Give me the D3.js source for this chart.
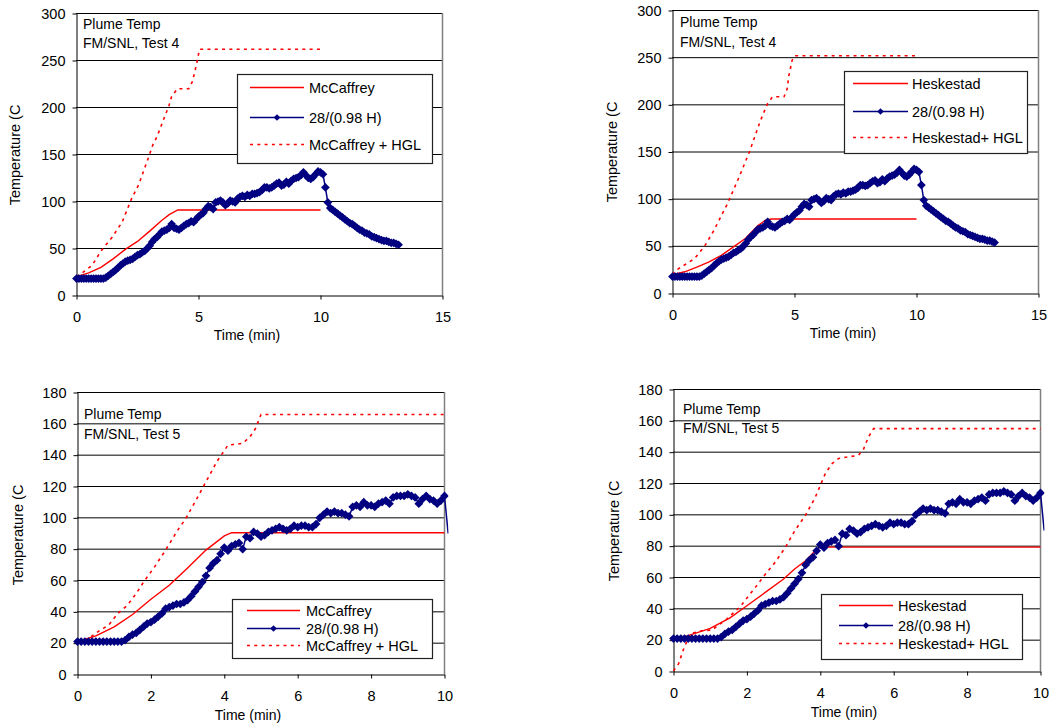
<!DOCTYPE html>
<html>
<head>
<meta charset="utf-8">
<script src="https://cdnjs.cloudflare.com/ajax/libs/d3/7.8.5/d3.min.js"></script>
<style>
  body { margin: 0; background: #fff; }
  svg { display: block; font-family: "Liberation Sans", Arial, sans-serif; }
</style>
</head>
<body>
<svg id="chart" width="1052" height="725"></svg>
<script>
// ---- Data -------------------------------------------------------------
// Thermocouple readings (deg C), logged every 0.1 min starting at t = 0.
const measuredStepMin = 0.1;
const test4Measured = [
  18, 18, 18, 18, 18, 18, 18, 18, 18, 18, 18, 18,
  19, 21, 23, 25, 27, 29.5, 32, 34, 36, 37,
  38, 39, 41, 43, 44, 46, 47.5, 50, 53, 57,
  60, 62, 65, 68, 69, 70, 72, 76, 72, 71,
  70, 72, 74, 76, 77, 79, 78, 81, 84, 86,
  88, 92, 95, 94, 92, 99, 100, 101, 99, 96,
  98, 101, 100, 99, 103, 105, 106, 105, 107, 106,
  108, 108, 109, 110, 112, 115, 115, 114, 115, 117,
  119, 120, 117, 118, 121, 119, 122, 124, 125, 126,
  128, 131, 128, 125, 124, 126, 129, 132, 131, 129,
  115, 99, 93, 91, 89, 87, 85, 83, 81, 79,
  77, 76, 74, 72, 70, 69, 67, 66, 65, 63,
  62, 61, 60, 59, 58, 58, 57, 56, 56, 55,
  54
];
const test5Measured = [
  21, 21, 21, 21, 21, 21, 21, 21, 21, 21, 21, 21, 21,
  22, 24, 25.5, 26.5, 28.5, 30.5, 32.5, 33.5, 35, 37,
  39, 42, 43, 44, 45, 45, 46, 47.5, 50, 53,
  56, 59, 63, 68, 71, 73, 77, 81, 79, 82,
  83, 84, 80, 88, 87, 91, 90, 88, 89, 91,
  92, 93, 94, 93, 92, 93, 95, 94, 95, 95,
  94, 94, 96, 100, 102, 104, 103, 104, 103, 103,
  102, 101, 107, 108, 107, 110, 108, 108, 107, 109,
  110, 111, 109, 113, 114, 114, 114, 115, 114, 113,
  109, 112, 114, 112, 111, 109, 111, 114, 90
];

// Plume correlation predictions: [time (min), temperature (deg C)]
const mccaffreyTest4 = [[0, 20], [0.5, 24], [1, 30], [1.5, 39], [2, 49], [2.5, 57.5], [3, 68.5], [3.5, 80], [3.8, 86], [4.15, 91], [10, 91]];
const mccaffreyHglTest4 = [[0, 20], [0.23, 24], [0.64, 32], [1.01, 47.5], [1.46, 62], [1.87, 78], [2.24, 102], [2.55, 118], [2.87, 141], [3.14, 161], [3.3, 169], [3.67, 194], [3.78, 201], [3.89, 211], [4.13, 220], [4.6, 220], [4.74, 227], [4.85, 238], [4.95, 250], [5.04, 262], [10, 262]];
const heskestadTest4 = [[0, 20], [0.5, 23], [1, 28], [1.5, 33.5], [2, 40.5], [2.5, 49.5], [3, 58.5], [3.5, 72], [3.8, 77.5], [4.05, 79], [10, 79]];
const heskestadHglTest4 = [[0, 20], [0.14, 24.5], [0.9, 37], [1.3, 49.5], [1.7, 67], [2.25, 95], [2.73, 123.5], [3.15, 150], [3.6, 183], [3.89, 201], [4.1, 208.5], [4.57, 208.5], [4.7, 217], [4.77, 231], [4.9, 247], [5.0, 252], [10, 252]];
const mccaffreyTest5 = [[0, 21], [0.5, 24.7], [1, 30.4], [1.5, 38.3], [2, 48], [2.5, 57], [3, 68], [3.5, 79.4], [4, 88.5], [4.2, 90.5], [10, 90.5]];
const mccaffreyHglTest5 = [[0, 21], [0.3, 23], [0.6, 28], [0.85, 31.5], [1.1, 39], [1.35, 44], [1.6, 51.7], [1.8, 59], [2.1, 68.7], [2.4, 79.4], [2.7, 91], [2.95, 99.6], [3.2, 110], [3.5, 123], [3.8, 136], [4.1, 146.4], [4.5, 147.5], [4.7, 151.7], [4.85, 157], [5.0, 166], [10, 166]];
const heskestadTest5 = [[0, 20.7], [0.4, 22.9], [1, 27.5], [1.54, 34.2], [2, 42], [2.5, 50.5], [3, 59], [3.3, 65.4], [3.6, 70.7], [3.9, 78], [4.0, 79.4], [10, 79.4]];
const heskestadHglTest5 = [[0, 0.4], [0.14, 5], [0.27, 14], [0.45, 24], [0.77, 26], [1.05, 26.5], [1.45, 33.5], [1.82, 41.4], [2.09, 49.6], [2.23, 53.7], [2.5, 62], [2.77, 69.7], [3.04, 79], [3.31, 90], [3.59, 99.5], [3.86, 111], [4.13, 126], [4.31, 132.5], [4.5, 136], [5.04, 138], [5.18, 142], [5.31, 149.6], [5.45, 155], [10, 155]];

// Axis ticks and labels
const xTicksTest4 = [0, 5, 10, 15];
const yTicksTest4 = [0, 50, 100, 150, 200, 250, 300];
const xTicksTest5 = [0, 2, 4, 6, 8, 10];
const yTicksTest5 = [0, 20, 40, 60, 80, 100, 120, 140, 160, 180];
const legendMcCaffrey = ["McCaffrey", "28/(0.98 H)", "McCaffrey + HGL"];
const legendHeskestad = ["Heskestad", "28/(0.98 H)", "Heskestad+ HGL"];
const noteTest4 = ["Plume Temp", "FM/SNL, Test 4"];
const noteTest5 = ["Plume Temp", "FM/SNL, Test 5"];
const xTitle = "Time (min)";
const yTitle = "Temperature (C";

// ---- Styling ----------------------------------------------------------
const RED = "#ff0000";
const NAVY = "#000080";
const svg = d3.select("#chart");
const toSeries = vals => vals.map((v, i) => [+(i * measuredStepMin).toFixed(2), v]);

const panels = [
  { id: "p1", left: 76, right: 442, top: 13, bottom: 295, xMax: 15, yMax: 300,
    xTicks: xTicksTest4, yTicks: yTicksTest4, model: mccaffreyTest4, modelHgl: mccaffreyHglTest4,
    measured: test4Measured, legend: legendMcCaffrey, note: noteTest4,
    legendBox: { x: 237, y: 74, w: 195, h: 89, rows: [87, 117, 144], lx1: 250, lx2: 304, tx: 309 },
    noteAt: { x: 83, y: [29, 48] }, xTitleAt: { x: 247, y: 340 }, yTitleAt: { x: 20, y: 155 } },
  { id: "p2", left: 672, right: 1038, top: 10, bottom: 293, xMax: 15, yMax: 300,
    xTicks: xTicksTest4, yTicks: yTicksTest4, model: heskestadTest4, modelHgl: heskestadHglTest4,
    measured: test4Measured, legend: legendHeskestad, note: noteTest4,
    legendBox: { x: 844, y: 71, w: 183, h: 82, rows: [83, 111, 137], lx1: 853, lx2: 908, tx: 912 },
    noteAt: { x: 680, y: [27, 47] }, xTitleAt: { x: 843, y: 338 }, yTitleAt: { x: 617, y: 152 } },
  { id: "p3", left: 77, right: 444, top: 392, bottom: 674, xMax: 10, yMax: 180,
    xTicks: xTicksTest5, yTicks: yTicksTest5, model: mccaffreyTest5, modelHgl: mccaffreyHglTest5,
    measured: test5Measured, legend: legendMcCaffrey, note: noteTest5,
    legendBox: { x: 232, y: 599, w: 200, h: 59, rows: [610, 628, 645], lx1: 247, lx2: 300, tx: 306 },
    noteAt: { x: 84, y: [419, 439] }, xTitleAt: { x: 248, y: 720 }, yTitleAt: { x: 23, y: 535 } },
  { id: "p4", left: 673, right: 1040, top: 389, bottom: 671, xMax: 10, yMax: 180,
    xTicks: xTicksTest5, yTicks: yTicksTest5, model: heskestadTest5, modelHgl: heskestadHglTest5,
    measured: test5Measured, legend: legendHeskestad, note: noteTest5,
    legendBox: { x: 821, y: 594, w: 201, h: 65, rows: [605, 625, 643], lx1: 839, lx2: 893, tx: 898 },
    noteAt: { x: 683, y: [414, 433] }, xTitleAt: { x: 844, y: 717 }, yTitleAt: { x: 619, y: 531 } }
];

// Diamond markers: squares turned 45 degrees
const diamond = d3.symbol().type(d3.symbolSquare).size(38);
const diamondSmall = d3.symbol().type(d3.symbolSquare).size(22);

panels.forEach(p => {
  const g = svg.append("g").attr("id", p.id);
  const x = d3.scaleLinear().domain([0, p.xMax]).range([p.left + 0.5, p.right + 0.5]);
  const y = d3.scaleLinear().domain([0, p.yMax]).range([p.bottom + 0.5, p.top + 0.5]);

  // plot area
  g.append("rect").attr("x", p.left).attr("y", p.top)
    .attr("width", p.right - p.left).attr("height", p.bottom - p.top).attr("fill", "#fff");

  // horizontal gridlines
  g.append("g").selectAll("line").data(p.yTicks.filter(d => d > 0)).join("line")
    .attr("x1", p.left).attr("x2", p.right)
    .attr("y1", d => y(d)).attr("y2", d => y(d))
    .attr("stroke", "#000").attr("stroke-width", 1);

  // right border of plot area
  g.append("line").attr("x1", p.right + 0.5).attr("x2", p.right + 0.5)
    .attr("y1", p.top).attr("y2", p.bottom)
    .attr("stroke", "#808080").attr("stroke-width", 1.5);

  // axes
  const fontAxis = sel => sel.attr("font-family", null).attr("font-size", null)
    .call(s => s.select(".domain").attr("stroke", "#000"))
    .call(s => s.selectAll(".tick line").attr("stroke", "#000"))
    .call(s => s.selectAll(".tick text").attr("fill", "#000").style("font-size", "14.5px"));
  g.append("g").attr("transform", `translate(0,${p.bottom + 0.5})`)
    .call(d3.axisBottom(x).tickValues(p.xTicks).tickSize(4).tickSizeOuter(0).tickPadding(12))
    .call(fontAxis);
  g.append("g").attr("transform", `translate(${p.left + 0.5},0)`)
    .call(d3.axisLeft(y).tickValues(p.yTicks).tickSize(4).tickSizeOuter(0).tickPadding(7))
    .call(fontAxis);

  // axis titles
  g.append("text").attr("x", p.xTitleAt.x).attr("y", p.xTitleAt.y)
    .attr("text-anchor", "middle").style("font-size", "14px").text(xTitle);
  g.append("text").attr("transform", `translate(${p.yTitleAt.x},${p.yTitleAt.y}) rotate(-90)`)
    .attr("text-anchor", "middle").style("font-size", "14.5px").text(yTitle);

  // clip region: data may run a few pixels past the right axis edge
  const clipId = p.id + "-clip";
  g.append("clipPath").attr("id", clipId).append("rect")
    .attr("x", p.left - 6).attr("y", p.top - 6)
    .attr("width", p.right - p.left + 10.5).attr("height", p.bottom - p.top + 12);

  const line = d3.line().x(d => x(d[0])).y(d => y(d[1]));
  const data = g.append("g").attr("clip-path", `url(#${clipId})`);

  // correlation + HGL (dashed)
  data.append("path").datum(p.modelHgl).attr("d", line)
    .attr("fill", "none").attr("stroke", RED).attr("stroke-width", 1.6)
    .attr("stroke-dasharray", "3,4.3");
  // correlation (solid)
  data.append("path").datum(p.model).attr("d", line)
    .attr("fill", "none").attr("stroke", RED).attr("stroke-width", 1.4);

  // measured series with diamond markers
  const series = toSeries(p.measured);
  data.append("path").datum(series).attr("d", line)
    .attr("fill", "none").attr("stroke", NAVY).attr("stroke-width", 1.5);
  data.append("g").selectAll("path").data(series.filter(d => d[0] <= p.xMax)).join("path")
    .attr("d", diamond)
    .attr("transform", d => `translate(${x(d[0])},${y(d[1])}) rotate(45)`)
    .attr("fill", NAVY);

  // chart note
  p.note.forEach((t, i) => {
    g.append("text").attr("x", p.noteAt.x).attr("y", p.noteAt.y[i])
      .style("font-size", "14px").text(t);
  });

  // legend
  const L = p.legendBox;
  const lg = g.append("g");
  lg.append("rect").attr("x", L.x + 0.5).attr("y", L.y + 0.5).attr("width", L.w).attr("height", L.h)
    .attr("fill", "#fff").attr("stroke", "#222").attr("stroke-width", 1.2);
  const styles = [
    { stroke: RED, width: 1.4, dash: null, marker: false },
    { stroke: NAVY, width: 1.5, dash: null, marker: true },
    { stroke: RED, width: 1.6, dash: "3,4.3", marker: false }
  ];
  p.legend.forEach((label, i) => {
    const cy = L.rows[i] + 0.5;
    const st = styles[i];
    lg.append("line").attr("x1", L.lx1).attr("x2", L.lx2).attr("y1", cy).attr("y2", cy)
      .attr("stroke", st.stroke).attr("stroke-width", st.width)
      .attr("stroke-dasharray", st.dash);
    if (st.marker) {
      lg.append("path").attr("d", diamondSmall)
        .attr("transform", `translate(${(L.lx1 + L.lx2) / 2},${cy}) rotate(45)`)
        .attr("fill", NAVY);
    }
    lg.append("text").attr("x", L.tx).attr("y", cy + 5.5)
      .style("font-size", "14.5px").text(label);
  });
});
</script>
</body>
</html>
